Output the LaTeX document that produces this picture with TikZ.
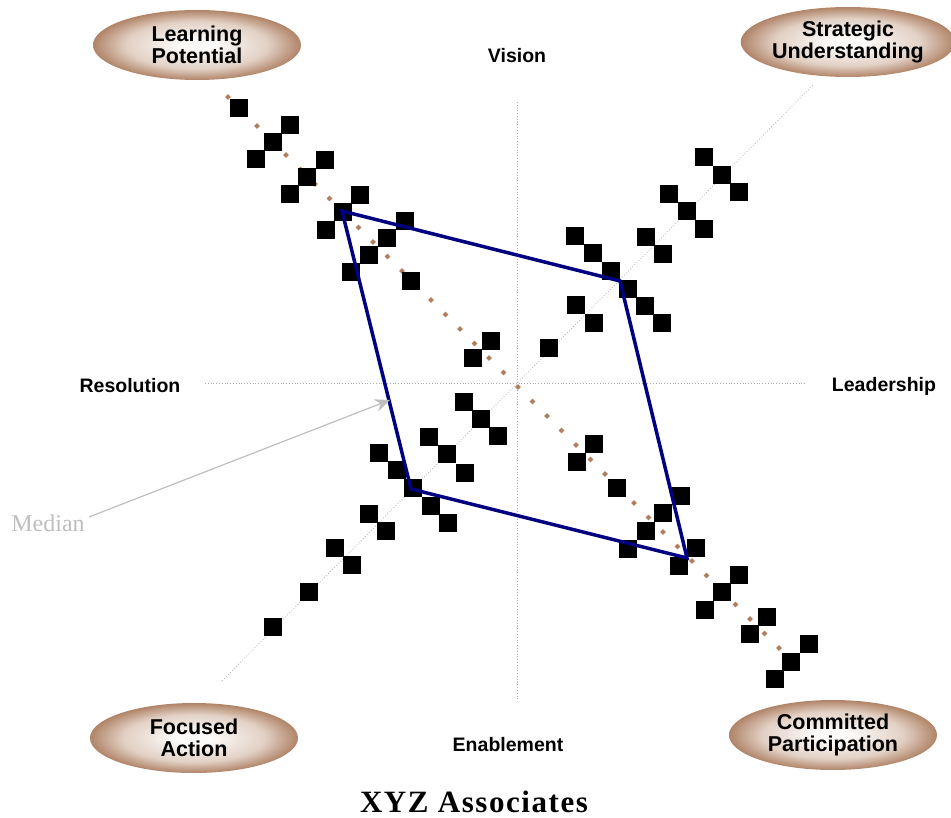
\documentclass[tikz,border=0pt]{standalone}
\usepackage{fontspec}
\setmainfont{Liberation Sans}
\newfontfamily\serifm{Liberation Serif}
\newfontfamily\xyzfont[LetterSpace=5]{Liberation Serif}
\usetikzlibrary{shapes.geometric,arrows.meta}
\definecolor{navyq}{RGB}{0,0,128}
\definecolor{dotbrown}{RGB}{176,126,92}
\definecolor{ellout}{RGB}{176,132,104}
\definecolor{ellmid}{RGB}{226,208,196}
\definecolor{ellin}{RGB}{252,250,248}
\definecolor{medgray}{RGB}{190,190,190}
\definecolor{axgray}{RGB}{170,170,170}
\pgfdeclareradialshading{ellshade}{\pgfpoint{0bp}{0bp}}{color(0bp)=(ellin); color(4bp)=(ellin); color(17bp)=(ellmid); color(25bp)=(ellout); color(50bp)=(ellout)}
\tikzset{
  sq/.style={fill=black, draw=none, minimum size=18pt, inner sep=0pt, outer sep=0pt},
  oval/.style={ellipse, shading=ellshade, draw=none, minimum width=208pt, minimum height=70pt, inner sep=0pt,
    align=center, font=\bfseries\fontsize{21.5}{22}\selectfont},
  axlabel/.style={font=\bfseries\fontsize{19.5}{22}\selectfont, inner sep=0pt},
  axisline/.style={axgray, dotted, line width=0.8pt},
  diagline/.style={medgray, dotted, line width=0.9pt},
  quad/.style={navyq, line width=3.5pt, line join=miter},
  medarrow/.style={medgray, line width=1.2pt, -{Stealth[length=15pt,width=13pt]}},
}
\begin{document}
\begin{tikzpicture}[x=1pt,y=-1pt]
\useasboundingbox (0,0) rectangle (951,818);
% axes
\coordinate (vtop) at (517,102);
\coordinate (vbot) at (517,700);
\coordinate (hl) at (205,383);
\coordinate (hr) at (805,383);
\draw[axisline] (vtop) -- (vbot);
\draw[axisline] (hl) -- (hr);
% gray diagonal
\coordinate (dgA) at (222,681);
\coordinate (dgB) at (813,85);
\draw[diagline] (dgA) -- (dgB);
% brown diamonds
\foreach \k in {0,...,38}{
  \fill[dotbrown] ({228+\k*14.5},{97+\k*14.5}) ++(-2.8,0) -- ++(2.8,-2.8) -- ++(2.8,2.8) -- ++(-2.8,2.8) -- cycle;
}
% squares
\foreach \px/\py [count=\i] in {
 239/108,290/125,273/142,256/159,325/160,307/177,290/194,360/195,343/212,326/230,405/221,387/238,369/255,351/272,411/281,491/341,473/358,
 704/157,722/175,739/192,669/194,687/211,704/229,575/236,593/253,611/271,628/289,645/306,662/323,646/237,663/254,576/305,594/323,549/348,
 464/402,481/419,498/436,429/437,447/454,465/473,379/453,397/470,413/488,431/506,448/523,369/514,386/531,335/548,352/565,309/592,273/627,
 594/444,577/462,617/488,681/496,663/513,646/531,628/549,696/548,679/566,739/575,722/592,705/610,767/617,750/634,809/644,791/662,775/679}{
  \node[sq] (s\i) at (\px,\py) {};
}
% blue quadrilateral
\coordinate (q1) at (342,211);
\coordinate (q2) at (620,281);
\coordinate (q3) at (687,558);
\coordinate (q4) at (411,489);
\draw[quad] (q1) -- (q2) -- (q3) -- (q4) -- cycle;
% median
\node[text=medgray, font=\serifm\fontsize{24}{26}\selectfont, inner sep=0pt] (med) at (48,523) {Median};
\coordinate (medstart) at (89,517);
\coordinate (medtip) at (390,400);
\draw[medarrow] (medstart) -- (medtip);
% ovals
\node[oval] (lp) at (197,45) {Learning\\Potential};
\node[oval] (su) at (848,42) {Strategic\\Understanding};
\node[oval] (fa) at (194,738) {Focused\\Action};
\node[oval] (cp) at (833,735) {Committed\\Participation};
% axis labels
\node[axlabel] (vis) at (517,56) {Vision};
\node[axlabel] (res) at (130,386) {Resolution};
\node[axlabel] (lea) at (884,386) {Leadership};
\node[axlabel] (ena) at (508,745) {Enablement};
% title
\node[font=\xyzfont\bfseries\fontsize{31}{34}\selectfont, inner sep=0pt] (ttl) at (474,802) {XYZ Associates};
\end{tikzpicture}
\end{document}
